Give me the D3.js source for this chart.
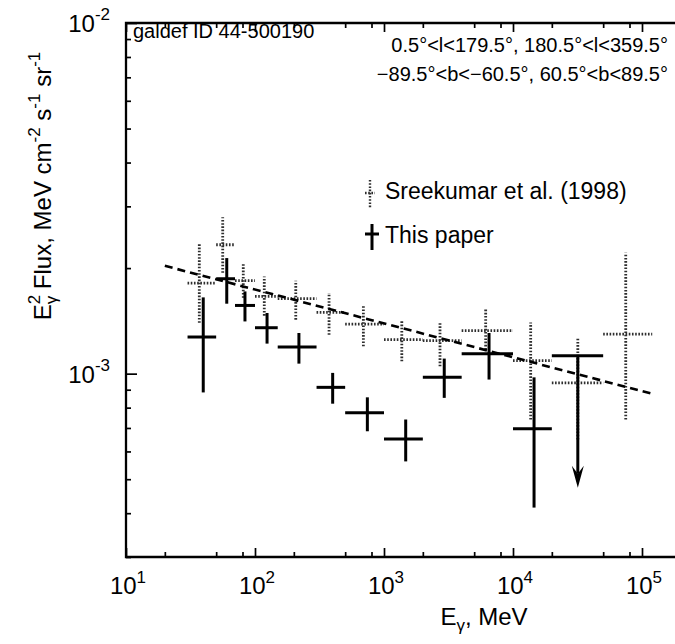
<!DOCTYPE html>
<html><head><meta charset="utf-8">
<script src="https://cdn.jsdelivr.net/npm/d3@7"></script>
<style>
html,body{margin:0;padding:0;background:#fff;}
svg{display:block;font-family:"Liberation Sans",Arial,Helvetica,sans-serif;}
</style></head>
<body>
<svg id="c" width="675" height="644"></svg>
<script>
// ---- data ----
const binLo = [30, 50, 70, 100, 150, 300, 500, 1000, 2000, 4000, 10000, 20000, 50000];
const binHi = [50, 70, 100, 150, 300, 500, 1000, 2000, 4000, 10000, 20000, 50000, 120000];

// Sreekumar et al. (1998)
const sreeE  = [37.0, 56.2, 81.1, 118, 207, 375, 692, 1374, 2717, 6140, 13710, 31800, 74800];
const sreeF  = [1.813e-3, 2.331e-3, 1.841e-3, 1.661e-3, 1.636e-3, 1.495e-3, 1.385e-3, 1.250e-3, 1.242e-3, 1.326e-3, 1.089e-3, 9.41e-4, 1.297e-3];
const sreeHi = [2.358e-3, 2.795e-3, 2.057e-3, 1.893e-3, 1.841e-3, 1.698e-3, 1.562e-3, 1.425e-3, 1.400e-3, 1.529e-3, 1.400e-3, 1.264e-3, 2.213e-3];
const sreeLo = [1.397e-3, 1.940e-3, 1.646e-3, 1.463e-3, 1.425e-3, 1.291e-3, 1.197e-3, 1.084e-3, 1.049e-3, 1.171e-3, 7.40e-4, 6.49e-4, 7.40e-4];

// This paper
const paperE  = [39.7, 60.4, 83.6, 124, 219, 400, 743, 1473, 2931, 6520, 14560];
const paperF  = [1.272e-3, 1.865e-3, 1.565e-3, 1.352e-3, 1.191e-3, 9.14e-4, 7.73e-4, 6.51e-4, 9.76e-4, 1.140e-3, 6.96e-4];
const paperHi = [1.650e-3, 2.136e-3, 1.716e-3, 1.489e-3, 1.306e-3, 1.005e-3, 8.56e-4, 7.40e-4, 1.104e-3, 1.306e-3, 9.76e-4];
const paperLo = [8.84e-4, 1.583e-3, 1.409e-3, 1.218e-3, 1.068e-3, 8.21e-4, 6.85e-4, 5.62e-4, 8.53e-4, 9.62e-4, 4.15e-4];

// This paper: upper limit
const ulE = [31800];
const ulLo = [20000];
const ulHi = [50000];
const ulF = [1.125e-3];
const ulArrowTo = [4.73e-4];

// model (dashed)
const modelE = [20, 120000];
const modelF = [2.03e-3, 8.76e-4];

// axis ticks
const xMajor = [1e1, 1e2, 1e3, 1e4, 1e5];
const xMajorExp = ["1", "2", "3", "4", "5"];
const xMinorMult = [2, 5, 8];
const yMajor = [1e-2, 1e-3];
const yMajorExp = ["-2", "-3"];
const yMinorMult = [2, 3, 4, 5, 6, 7, 8, 9];

// ---- layout ----
const L = 126, R = 676, T = 23, B = 557;
const x = d3.scaleLog().domain([10, Math.pow(10, 1 + (R - L) / 129)]).range([L, R]);
const y = d3.scaleLog().domain([3e-4, 1e-2]).range([B, T]);

const svg = d3.select("#c");
const g = svg.append("g");

// minor tick values
const xMinor = [];
for (let d = 1; d <= 5; d++) xMinorMult.forEach(m => { const v = m * Math.pow(10, d); if (v < x.domain()[1]) xMinor.push(v); });
const yMinor = [];
[-4, -3].forEach(d => yMinorMult.forEach(m => { const v = m * Math.pow(10, d); if (v > 3e-4 && v < 1e-2) yMinor.push(v); }));

// axes (ticks inward)
function addAxis(axisGen, tr) {
  const a = g.append("g").attr("transform", tr).call(axisGen);
  a.selectAll("text").remove();
  a.select(".domain").remove();
  a.selectAll("line").attr("stroke", "#000").attr("stroke-width", 1.7);
  return a;
}
addAxis(d3.axisBottom(x).tickValues(xMajor).tickSize(-9), `translate(0,${B})`);
addAxis(d3.axisBottom(x).tickValues(xMinor).tickSize(-5), `translate(0,${B})`);
addAxis(d3.axisTop(x).tickValues(xMajor).tickSize(-9), `translate(0,${T})`);
addAxis(d3.axisTop(x).tickValues(xMinor).tickSize(-5), `translate(0,${T})`);
addAxis(d3.axisLeft(y).tickValues(yMajor).tickSize(-11), `translate(${L},0)`);
addAxis(d3.axisLeft(y).tickValues(yMinor).tickSize(-5), `translate(${L},0)`);

// frame
g.append("path").attr("d", `M${R},${T}H${L}V${B}H${R}`).attr("fill", "none").attr("stroke", "#000").attr("stroke-width", 2.3);

// x tick labels
xMajor.forEach((v, i) => {
  const t = g.append("text").attr("x", x(v) + 2).attr("y", 594).attr("text-anchor", "middle").attr("fill", "#000");
  t.append("tspan").attr("font-size", 24).text("10");
  t.append("tspan").attr("font-size", 17).attr("dy", -11).text(xMajorExp[i]);
});
// y tick labels
yMajor.forEach((v, i) => {
  const t = g.append("text").attr("x", 110).attr("y", y(v) + 9).attr("text-anchor", "end").attr("fill", "#000");
  t.append("tspan").attr("font-size", 24).text("10");
  t.append("tspan").attr("font-size", 17).attr("dy", -12).text(yMajorExp[i]);
});

// axis titles
{
  const t = g.append("text").attr("x", 484).attr("y", 625).attr("text-anchor", "middle").attr("font-size", 24);
  t.append("tspan").text("E");
  t.append("tspan").attr("font-size", 17).attr("dy", 6).text("γ");
  t.append("tspan").attr("dy", -6).text(", MeV");
}
{
  const t = g.append("text").attr("transform", "translate(51,186) rotate(-90)").attr("text-anchor", "middle").attr("font-size", 24);
  t.append("tspan").text("E");
  t.append("tspan").attr("font-size", 17).attr("dy", -11).text("2");
  t.append("tspan").attr("font-size", 17).attr("dx", -9.5).attr("dy", 17).text("γ");
  t.append("tspan").attr("dy", -6).text(" Flux, MeV cm");
  t.append("tspan").attr("font-size", 17).attr("dy", -11).text("-2");
  t.append("tspan").attr("dy", 11).text(" s");
  t.append("tspan").attr("font-size", 17).attr("dy", -11).text("-1");
  t.append("tspan").attr("dy", 11).text(" sr");
  t.append("tspan").attr("font-size", 17).attr("dy", -11).text("-1");
}

// annotations
g.append("text").attr("x", 133).attr("y", 38).attr("font-size", 20).text("galdef ID 44-500190");
g.append("text").attr("x", 668).attr("y", 52).attr("font-size", 20).attr("text-anchor", "end").text("0.5°<l<179.5°, 180.5°<l<359.5°");
g.append("text").attr("x", 668).attr("y", 81).attr("font-size", 20).attr("text-anchor", "end").text("\u221289.5°<b<\u221260.5°, 60.5°<b<89.5°");

// ---- Sreekumar (dotted) ----
const dotted = g.append("g").attr("stroke", "#2e2e2e").attr("stroke-width", 2.8).attr("stroke-dasharray", "1.6,1.6").attr("fill", "none");
sreeE.forEach((e, i) => {
  dotted.append("line").attr("x1", x(binLo[i])).attr("x2", x(binHi[i])).attr("y1", y(sreeF[i])).attr("y2", y(sreeF[i]));
  dotted.append("line").attr("x1", x(e)).attr("x2", x(e)).attr("y1", y(sreeLo[i])).attr("y2", y(sreeHi[i]));
});

// ---- model (dashed) ----
g.append("path").datum(modelE.map((e, i) => [e, modelF[i]]))
  .attr("d", d3.line().x(d => x(d[0])).y(d => y(d[1])))
  .attr("fill", "none").attr("stroke", "#000").attr("stroke-width", 2.6).attr("stroke-dasharray", "8,5");

// ---- This paper (solid) ----
const solid = g.append("g").attr("stroke", "#000").attr("stroke-width", 3).attr("fill", "none");
paperE.forEach((e, i) => {
  solid.append("line").attr("x1", x(binLo[i])).attr("x2", x(binHi[i])).attr("y1", y(paperF[i])).attr("y2", y(paperF[i]));
  solid.append("line").attr("x1", x(e)).attr("x2", x(e)).attr("y1", y(paperLo[i])).attr("y2", y(paperHi[i]));
});
ulE.forEach((e, i) => {
  solid.append("line").attr("x1", x(ulLo[i])).attr("x2", x(ulHi[i])).attr("y1", y(ulF[i])).attr("y2", y(ulF[i]));
  solid.append("line").attr("x1", x(e)).attr("x2", x(e)).attr("y1", y(ulF[i])).attr("y2", y(ulArrowTo[i]) - 14);
  const ax = x(e), ay = y(ulArrowTo[i]);
  g.append("path").attr("d", `M${ax - 6},${ay - 22}L${ax},${ay}L${ax + 6},${ay - 22}L${ax},${ay - 14}Z`).attr("fill", "#000");
});

// ---- legend ----
const lg = g.append("g");
lg.append("line").attr("x1", 370).attr("x2", 370).attr("y1", 180).attr("y2", 208).attr("stroke", "#2e2e2e").attr("stroke-width", 2.4).attr("stroke-dasharray", "1.6,1.6");
lg.append("line").attr("x1", 365).attr("x2", 375).attr("y1", 193).attr("y2", 193).attr("stroke", "#2e2e2e").attr("stroke-width", 2.4).attr("stroke-dasharray", "1.6,1.6");
lg.append("text").attr("x", 385).attr("y", 199).attr("font-size", 23).text("Sreekumar et al. (1998)");
lg.append("line").attr("x1", 372).attr("x2", 372).attr("y1", 224).attr("y2", 250).attr("stroke", "#000").attr("stroke-width", 3);
lg.append("line").attr("x1", 365).attr("x2", 379).attr("y1", 234).attr("y2", 234).attr("stroke", "#000").attr("stroke-width", 3);
lg.append("text").attr("x", 385).attr("y", 243).attr("font-size", 23).text("This paper");
</script>
</body></html>
